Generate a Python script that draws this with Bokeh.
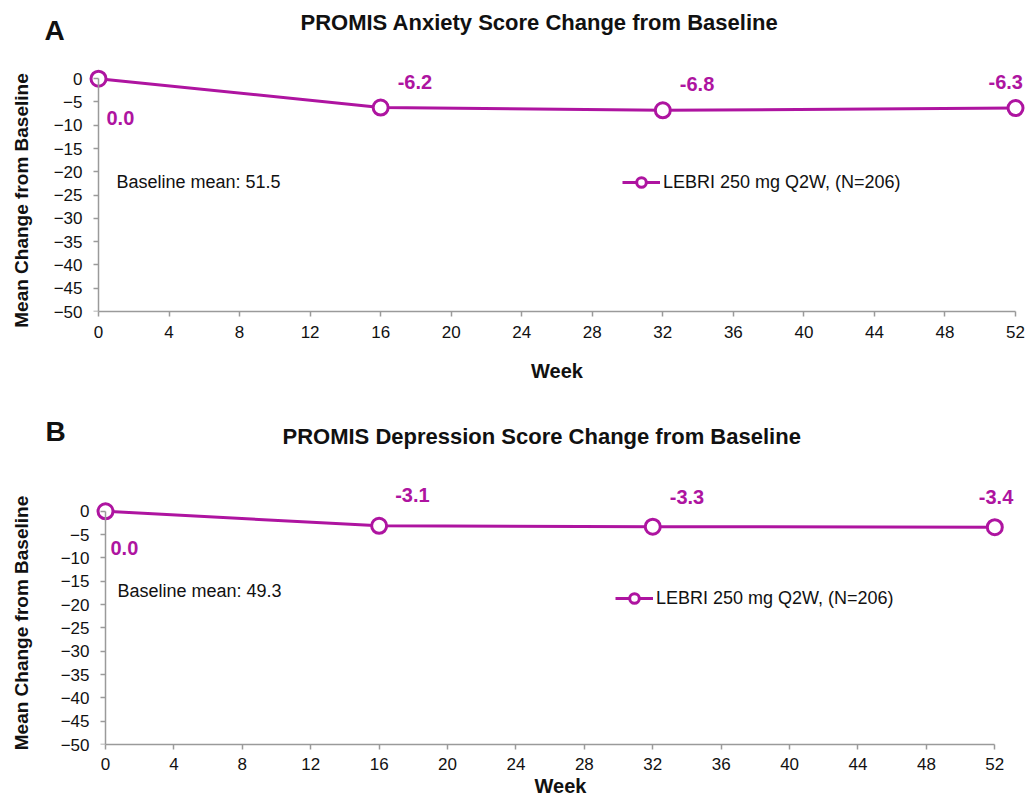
import math
from bokeh.plotting import figure
from bokeh.models import (Range1d, FixedTicker, Label, Legend, LegendItem,
                          ColumnDataSource, LinearAxis)
from bokeh.layouts import column, row
from bokeh.embed import file_html
from bokeh.resources import INLINE
from bokeh.core.properties import value

# ---------------- data ----------------
weeks = [0, 16, 32, 52]
anxiety_change = [0.0, -6.2, -6.8, -6.3]
depression_change = [0.0, -3.1, -3.3, -3.4]
anxiety_labels = ["0.0", "-6.2", "-6.8", "-6.3"]
depression_labels = ["0.0", "-3.1", "-3.3", "-3.4"]
x_ticks = [0, 4, 8, 12, 16, 20, 24, 28, 32, 36, 40, 44, 48, 52]
y_ticks = [0, -5, -10, -15, -20, -25, -30, -35, -40, -45, -50]
series_name = "LEBRI 250 mg Q2W, (N=206)"
panel_titles = ["PROMIS Anxiety Score Change from Baseline",
                "PROMIS Depression Score Change from Baseline"]
panel_letters = ["A", "B"]
baseline_texts = ["Baseline mean: 51.5", "Baseline mean: 49.3"]
x_title = "Week"
y_title = "Mean Change from Baseline"

# ---------------- style ----------------
MAGENTA = "#AE14A0"
FONT = "Liberation Sans"
AXIS_GRAY = "#9a9a9a"
TXT = "#111111"
PAGE_W = 1025
YT_W = 40            # width of the strip holding the rotated y-axis title
PLOT_W = PAGE_W - YT_W
LBL_FIX = 8          # measured vertical correction for baseline-anchored labels


def no_align(p):
    if "frame_align" in p.properties():
        p.frame_align = False


def blank(w, h):
    f = figure(width=w, height=h, output_backend="svg", toolbar_location=None,
               x_axis_location=None, y_axis_location=None,
               x_range=Range1d(0, 1), y_range=Range1d(0, 1),
               min_border_left=0, min_border_right=0,
               min_border_top=0, min_border_bottom=0)
    no_align(f)
    f.outline_line_color = None
    f.grid.visible = False
    return f


def make_header(h, letter, letter_x, letter_base, title, title_x, title_base):
    hd = blank(PAGE_W, h)
    hd.add_layout(Label(x=letter_x, y=h - letter_base + LBL_FIX, x_units="screen",
                        y_units="screen", text=letter, text_font=FONT,
                        text_font_size="28px", text_font_style="bold",
                        text_color=TXT, text_baseline="alphabetic"))
    hd.add_layout(Label(x=title_x, y=h - title_base + LBL_FIX, x_units="screen",
                        y_units="screen", text=title, text_font=FONT,
                        text_font_size="22px", text_font_style="bold",
                        text_color=TXT, text_baseline="alphabetic"))
    return hd


def make_ytitle(h, cx, cy):
    f = blank(YT_W, h)
    f.add_layout(Label(x=cx, y=h - cy, x_units="screen", y_units="screen",
                       text=y_title, angle=math.pi / 2, text_align="center",
                       text_baseline="middle", text_font=FONT,
                       text_font_size="19px", text_font_style="bold",
                       text_color=TXT))
    return f


def make_panel(fig_h, frame_left, axis_x, x_scale, frame_top, y0_px, frame_bottom,
               yvals, ylabels, lab_dx, lab_dy, base_text, base_x, base_y, leg_loc,
               xlab_standoff, xtitle_standoff):
    y_scale = (frame_bottom - y0_px) / 50.0
    x_start = -(axis_x - frame_left) / x_scale
    x_end = (PLOT_W - axis_x) / x_scale
    y_end = (y0_px - frame_top) / y_scale

    p = figure(width=PLOT_W, height=fig_h, output_backend="svg", toolbar_location=None,
               x_range=Range1d(x_start, x_end), y_range=Range1d(-50, y_end),
               min_border_left=frame_left, min_border_right=0,
               min_border_top=frame_top, min_border_bottom=fig_h - frame_bottom)
    no_align(p)
    p.outline_line_color = None
    p.xgrid.visible = False
    p.ygrid.visible = False
    p.background_fill_color = "white"
    p.border_fill_color = "white"

    # x axis
    xa = p.xaxis[0]
    xa.ticker = FixedTicker(ticks=x_ticks)
    xa.bounds = (0, 52)
    xa.axis_line_color = AXIS_GRAY
    xa.axis_line_width = 1.5
    xa.major_tick_line_color = AXIS_GRAY
    xa.major_tick_line_width = 1.5
    xa.major_tick_out = 5
    xa.major_tick_in = 0
    xa.minor_tick_line_color = None
    xa.major_label_text_font = FONT
    xa.major_label_text_font_size = "17px"
    xa.major_label_text_color = TXT
    xa.major_label_standoff = xlab_standoff
    xa.axis_label = x_title
    xa.axis_label_text_font = FONT
    xa.axis_label_text_font_style = "bold"
    xa.axis_label_text_font_size = "20px"
    xa.axis_label_text_color = TXT
    xa.axis_label_standoff = xtitle_standoff

    # left axis: tick labels only
    ya = p.yaxis[0]
    ya.ticker = FixedTicker(ticks=y_ticks)
    ya.axis_line_color = None
    ya.major_tick_line_color = None
    ya.major_tick_out = 0
    ya.major_tick_in = 0
    ya.minor_tick_line_color = None
    ya.major_label_text_font = FONT
    ya.major_label_text_font_size = "17px"
    ya.major_label_text_color = TXT
    ya.major_label_standoff = 6

    # axis line + outward ticks drawn at week 0 (no labels)
    yline = LinearAxis(ticker=FixedTicker(ticks=[], minor_ticks=y_ticks),
                       bounds=(-50, 0), fixed_location=0,
                       axis_line_color=AXIS_GRAY, axis_line_width=1.5,
                       major_tick_line_color=None, major_tick_in=0, major_tick_out=0,
                       minor_tick_line_color=AXIS_GRAY, minor_tick_line_width=1.5,
                       minor_tick_in=5, minor_tick_out=0, major_label_standoff=0)
    p.add_layout(yline, "right")

    src = ColumnDataSource(dict(x=weeks, y=yvals, t=ylabels, dx=lab_dx, dy=lab_dy))
    line_r = p.line("x", "y", source=src, line_color=MAGENTA, line_width=3)
    pts_r = p.scatter("x", "y", source=src, size=15, marker="circle",
                      fill_color="white", line_color=MAGENTA, line_width=3)
    p.text("x", "y", text="t", source=src, x_offset="dx", y_offset="dy",
           text_align="left", text_baseline="middle", text_color=MAGENTA,
           text_font=value(FONT), text_font_size="20px", text_font_style="bold")

    p.add_layout(Label(x=base_x, y=base_y, text=base_text, text_font=FONT,
                       text_font_size="18px", text_color=TXT,
                       text_baseline="middle"))

    leg = Legend(items=[LegendItem(label=series_name, renderers=[line_r, pts_r])],
                 location=leg_loc, glyph_width=38, glyph_height=24, label_height=24,
                 label_standoff=3, padding=0, margin=0, spacing=0,
                 border_line_color=None, background_fill_alpha=0,
                 label_text_font=FONT, label_text_font_size="18px",
                 label_text_color=TXT)
    p.add_layout(leg)
    return p


# ---- panel A : page rows 0..45 header, 45..384 chart ----
hA = make_header(45, panel_letters[0], 44, 38, panel_titles[0], 300, 30)
yA = make_ytitle(339, 21, 155)
pA = make_panel(fig_h=339, frame_left=88 - YT_W, axis_x=98 - YT_W, x_scale=17.635,
                frame_top=5, y0_px=33.3, frame_bottom=267,
                yvals=anxiety_change, ylabels=anxiety_labels,
                lab_dx=[8, 17, 17, -27], lab_dy=[39, -26, -26, -26],
                base_text=baseline_texts[0], base_x=1.02, base_y=-22.08,
                leg_loc=(534, 117), xlab_standoff=9, xtitle_standoff=19)

# ---- panel B : page rows 384..452 header, 452..799 chart ----
hB = make_header(68, panel_letters[1], 45, 55, panel_titles[1], 282, 60)
yB = make_ytitle(347, 21, 170.5)
pB = make_panel(fig_h=347, frame_left=95 - YT_W, axis_x=105 - YT_W, x_scale=17.102,
                frame_top=5, y0_px=59, frame_bottom=293,
                yvals=depression_change, ylabels=depression_labels,
                lab_dx=[5, 16, 17, -16], lab_dy=[37, -31, -30, -30],
                base_text=baseline_texts[1], base_x=0.70, base_y=-17.09,
                leg_loc=(520, 134), xlab_standoff=8, xtitle_standoff=2)

layout = column(hA, row(yA, pA, spacing=0), hB, row(yB, pB, spacing=0), spacing=0)
open("out.html", "w").write(file_html(layout, INLINE))
